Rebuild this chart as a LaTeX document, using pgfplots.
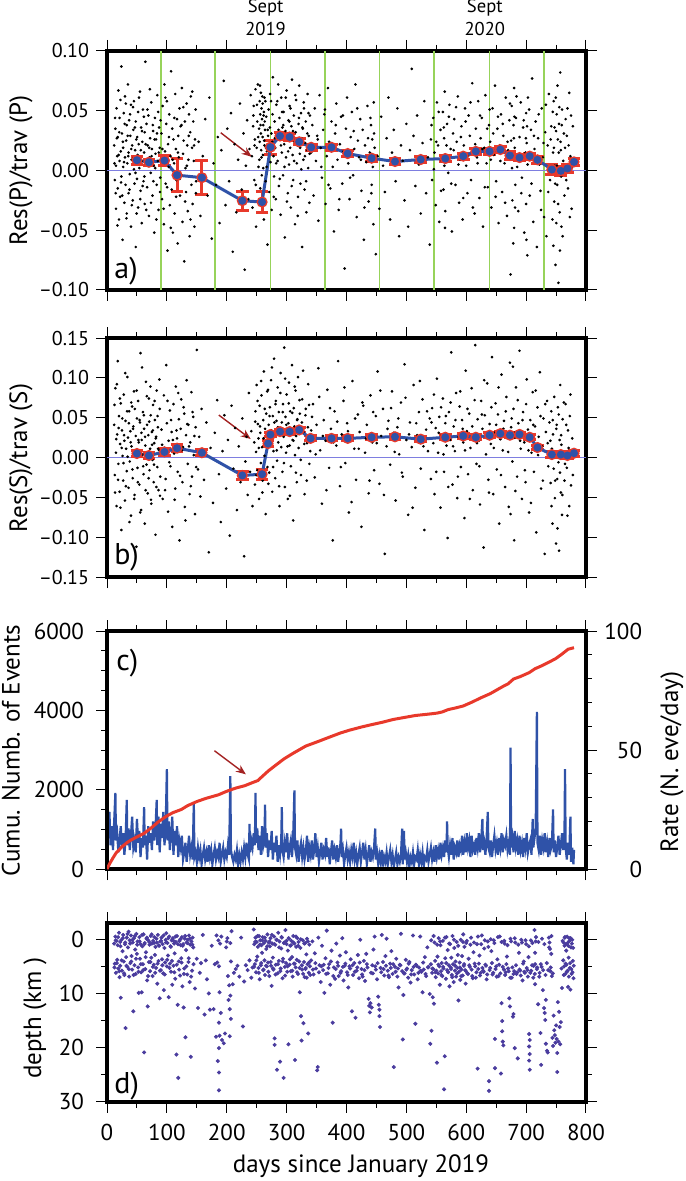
\documentclass[border=0pt]{standalone}
\usepackage{fontspec}
\setmainfont{PT Sans}
\usepackage{pgfplots}
\usepackage{pgfplotstable}
\pgfplotsset{compat=1.18}
\usetikzlibrary{arrows.meta}
\definecolor{bl}{HTML}{2F52A8}
\definecolor{rd}{HTML}{E8392B}
\definecolor{gr}{HTML}{97D35A}
\definecolor{zl}{HTML}{7E7EE0}
\definecolor{pu}{HTML}{4A3C9E}
\definecolor{ar}{HTML}{A32222}
\newcommand\fA{\fontsize{10}{12}\selectfont}
\newcommand\fB{\fontsize{11.5}{13.8}\selectfont}
\newcommand\fL{\fontsize{12.5}{15}\selectfont}
\newcommand\fS{\fontsize{9.3}{11}\selectfont}
\newcommand\fP{\fontsize{15}{18}\selectfont}
\pgfplotsset{
 base/.style={
  scale only axis, width=239.5pt, xmin=0, xmax=800,
  axis line style={line width=2pt, black},
  tick align=outside, major tick length=5.5pt, minor tick length=3pt,
  every tick/.style={black, line width=0.5pt},
  xtick={0,100,...,800}, minor xtick={50,150,...,750},
  /pgf/number format/assume math mode=true,
 },
 ebars/.style={rd, line width=1.5pt, only marks, mark=none,
  error bars/.cd, y dir=both, y explicit,
  error bar style={rd, line width=1.5pt},
  error mark options={rd, line width=1.5pt, mark size=3.2pt, rotate=90}},
 bline/.style={bl, line width=1.5pt, mark=*, mark size=1.2pt, mark options={fill=bl, draw=bl}},
 dots/.style={only marks, mark=*, mark size=0.45pt, black, mark options={draw=black, fill=black}},
}
\pgfplotstableread{
x y e
50 0.0086 0.0033
70 0.0069 0.0025
96 0.0083 0.0040
117 -0.0039 0.0140
158.5 -0.0060 0.0140
226 -0.0253 0.0080
259 -0.0264 0.0090
273 0.0195 0.0060
289 0.0289 0.0030
305 0.0280 0.0030
321 0.0240 0.0025
341 0.0194 0.0025
375 0.0194 0.0025
402 0.0142 0.0025
442 0.0103 0.0025
481 0.0075 0.0025
524 0.0092 0.0025
565 0.0100 0.0025
595 0.0120 0.0025
616 0.0160 0.0025
639 0.0160 0.0025
657 0.0175 0.0025
673 0.0125 0.0030
689 0.0108 0.0025
706 0.0120 0.0025
719 0.0089 0.0030
743 0.0008 0.0040
758 -0.0003 0.0035
769 0.0017 0.0035
780 0.0072 0.0030
}\tabA
\pgfplotstableread{
x y e
50 0.0050 0.0040
70 0.0025 0.0040
96 0.0070 0.0040
117 0.0117 0.0045
158.5 0.0060 0.0040
226 -0.0225 0.0045
259 -0.0210 0.0060
269 0.0175 0.0040
273 0.0288 0.0030
289 0.0325 0.0030
305 0.0325 0.0030
321 0.0346 0.0030
340 0.0240 0.0030
375 0.0240 0.0030
402 0.0240 0.0030
442 0.0254 0.0030
481 0.0260 0.0030
524 0.0230 0.0030
565 0.0254 0.0030
595 0.0270 0.0030
616 0.0254 0.0030
639 0.0280 0.0030
657 0.0300 0.0030
673 0.0280 0.0030
689 0.0290 0.0030
706 0.0254 0.0030
719 0.0125 0.0030
743 0.0037 0.0040
758 0.0037 0.0040
769 0.0025 0.0040
780 0.0054 0.0040
}\tabB
\begin{document}
\begin{tikzpicture}
\path[use as bounding box] (0,0) rectangle (342.5pt,-590.5pt);
% ---------------- panel a
\begin{axis}[base, at={(53.5pt,-145pt)}, anchor=south west, height=119.5pt,
 ymin=-0.1, ymax=0.1, ytick={-0.1,-0.05,0,0.05,0.1},
 yticklabels={–0.10,–0.05,0.00,0.05,0.10}, yticklabel style={font=\fA}, xticklabels={}]
\pgfplotsinvokeforeach{90,181,273,364,455,546,639,730}{\addplot[gr, line width=0.9pt] coordinates {(#1,-0.1) (#1,0.1)};}
\addplot[dots] coordinates {
(12,0.021)(13,-0.008)(14,0.035)(15,0.004)(15,-0.032)(16,0.052)(17,0.012)(18,-0.015)(18,0.028)(19,0.067)(20,-0.041)(21,0.008)(21,0.044)(22,-0.022)(23,0.016)(24,0.087)(24,-0.005)(25,0.031)(26,-0.058)(27,0.019)(27,0.003)(28,0.048)(29,-0.027)(30,0.011)(30,0.062)(31,-0.012)(32,0.025)(33,0.038)(33,-0.036)(34,0.006)(35,0.072)(36,-0.019)(36,0.015)(37,0.042)(38,-0.003)(39,0.029)(40,-0.047)(40,0.055)(41,0.009)(42,0.021)(43,-0.025)(44,0.034)(45,0.001)(45,0.058)(46,-0.011)(47,0.017)(48,-0.064)(48,0.041)(49,0.026)(50,-0.007)(51,0.013)(52,0.049)(52,-0.031)(53,0.022)(54,0.002)(55,0.066)(56,-0.017)(57,0.036)(58,0.008)(58,-0.044)(59,0.024)(60,0.051)(61,-0.009)(62,0.015)(63,0.032)(63,-0.028)(64,0.091)(65,0.005)(66,0.039)(67,-0.014)(68,0.021)(69,0.046)(70,-0.038)(71,0.011)(72,0.027)(73,-0.002)(74,0.057)(75,0.018)(76,-0.021)(77,0.033)(78,0.004)(79,-0.052)(80,0.044)(81,0.014)(82,0.026)(83,-0.012)(84,0.063)(85,0.008)(86,-0.033)(87,0.036)(88,0.019)(89,-0.006)
(91,0.031)(92,-0.024)(93,0.054)(94,0.007)(95,-0.045)(96,0.072)(97,0.016)(98,-0.011)(99,0.039)(100,0.058)(101,-0.067)(102,0.022)(103,0.003)(104,0.047)(105,-0.029)(106,0.012)(107,0.083)(108,-0.016)(109,0.035)(110,-0.052)(111,0.026)(112,0.006)(113,-0.036)(114,0.064)(115,0.018)(116,-0.008)(117,0.043)(118,-0.061)(119,0.029)(120,0.011)(121,0.052)(122,-0.021)(123,0.037)(124,-0.004)(125,0.069)(126,-0.043)(127,0.014)(128,0.025)(129,-0.076)(130,0.041)(131,0.002)(132,-0.018)(133,0.056)(134,0.021)(135,-0.034)(136,0.009)(137,0.047)(138,-0.055)(139,0.032)(140,0.062)(141,-0.012)(142,0.019)(143,-0.028)(144,0.041)(145,0.008)(146,-0.047)(147,0.026)(148,0.051)(149,-0.009)
(153,0.024)(156,-0.038)(160,0.012)(164,0.043)(168,-0.021)(171,0.061)(175,-0.057)(178,0.006)(182,-0.012)(185,0.028)(188,-0.044)(191,0.017)(195,0.075)(198,-0.029)(201,0.035)(204,-0.009)(207,0.048)(210,-0.068)(213,0.022)(216,-0.035)(219,0.009)(222,0.056)(225,-0.016)(228,0.031)(230,-0.083)(232,0.004)(234,0.042)(236,-0.024)(238,0.018)(240,0.063)
(242,0.012)(243,-0.031)(244,0.037)(245,0.054)(246,-0.008)(247,0.026)(248,0.068)(249,-0.047)(250,0.019)(251,0.041)(252,0.072)(253,0.003)(254,0.035)(255,0.058)(255,0.024)(256,0.047)(256,-0.015)(257,0.031)(257,0.065)(258,0.052)(258,0.011)(259,0.043)(259,-0.026)(260,0.028)(260,0.056)(261,0.038)(261,0.002)(262,0.049)(262,-0.041)(263,0.021)(263,0.061)(264,0.034)(265,-0.009)(266,0.045)(267,0.016)(268,-0.062)(269,0.029)(270,0.051)(271,-0.018)(272,0.036)(273,0.007)(274,0.058)(275,-0.033)(276,0.024)(277,0.078)(278,0.012)(279,-0.005)
(280,0.041)(281,0.019)(282,-0.024)(283,0.055)(284,0.031)(285,0.008)(286,0.072)(287,-0.013)(288,0.044)(289,0.026)(290,-0.037)(291,0.061)(292,0.015)(293,0.036)(294,-0.004)(295,0.049)(296,0.022)(297,-0.056)(298,0.033)(299,0.011)(300,0.067)(301,0.028)(302,-0.019)(303,0.042)(304,0.005)(305,0.054)(306,0.019)(307,-0.031)(308,0.037)(309,0.076)(310,0.013)(311,-0.008)(312,0.046)(313,0.024)(314,-0.045)(315,0.032)(316,0.059)(317,0.006)(318,0.021)(319,-0.022)(320,0.039)(321,0.071)(322,0.014)(323,-0.011)(324,0.048)(325,0.027)(326,-0.064)(327,0.035)(328,0.009)(329,0.052)(330,-0.016)(331,0.023)(332,0.041)(333,-0.035)(334,0.017)(335,0.064)(336,0.002)(337,0.029)(338,-0.027)(339,0.046)
(341,0.015)(343,0.038)(345,-0.021)(347,0.052)(349,0.008)(351,0.029)(353,-0.042)(355,0.063)(357,0.019)(359,-0.006)(361,0.034)(363,0.047)(365,-0.028)(367,0.012)(369,0.069)(371,0.024)(373,-0.015)(375,0.041)(377,0.003)(379,-0.051)(381,0.031)(383,0.056)(385,0.009)(387,-0.033)(389,0.022)(391,0.045)(393,-0.011)(395,0.016)(397,-0.082)(399,0.035)(401,0.061)(403,0.006)(405,-0.024)(407,0.028)(409,0.049)(411,-0.004)(413,0.018)(415,0.072)(417,-0.039)(419,0.025)(421,0.011)(423,0.043)(425,-0.017)(427,0.034)(429,-0.058)(431,0.021)(433,0.007)(435,0.054)(437,-0.026)(439,0.015)(441,0.038)(442,-0.012)(443,0.026)(444,0.003)(445,-0.045)(446,0.031)(447,0.019)(449,-0.07)
(452,0.012)(455,-0.032)(458,0.045)(461,0.004)(464,-0.018)(467,0.027)(470,0.061)(473,-0.041)(476,0.015)(479,0.034)(482,-0.009)(485,0.052)(488,-0.055)(491,0.021)(494,0.008)(497,-0.025)(500,0.039)(503,-0.047)(506,0.017)(509,0.085)(512,0.029)(515,-0.013)(518,0.046)(521,0.005)(524,-0.036)(527,0.023)(530,0.058)(533,-0.019)(536,0.011)(539,-0.062)
(541,0.026)(543,-0.008)(545,0.044)(547,0.015)(549,-0.029)(551,0.057)(553,0.021)(555,-0.043)(557,0.034)(559,0.008)(561,0.049)(562,-0.016)(563,0.027)(564,0.066)(565,-0.034)(566,0.012)(568,0.039)(570,-0.002)(572,0.055)(574,0.018)(576,-0.051)(578,0.031)(580,0.043)(582,-0.012)(584,0.024)(586,0.062)(588,-0.027)(590,0.009)(592,0.037)(594,-0.041)(596,0.021)(598,0.052)(600,0.004)(602,-0.019)(604,0.046)(606,0.029)(608,-0.008)(610,0.073)(612,0.016)(614,-0.036)(616,0.035)(618,0.011)(620,0.058)(622,-0.023)(624,0.027)(626,0.044)(628,-0.047)(630,0.019)(632,0.063)(634,0.006)(636,-0.014)(638,0.038)
(640,0.024)(642,-0.031)(644,0.052)(646,0.013)(648,0.071)(650,-0.009)(652,0.035)(654,-0.044)(656,0.021)(658,0.047)(660,-0.018)(662,0.029)(664,0.006)(666,0.061)(668,-0.038)(670,0.017)(672,0.042)(674,-0.087)(675,0.025)(676,0.054)(677,-0.025)(678,0.012)(679,0.038)(680,-0.048)(680,0.069)(681,0.019)(682,-0.012)(683,0.044)(685,0.003)(687,-0.034)(689,0.028)(691,0.057)(693,-0.006)(695,0.036)(697,-0.052)(699,0.015)(700,0.048)(700,-0.028)(701,0.023)(702,-0.071)(703,0.061)(704,0.009)(706,-0.021)(708,0.034)(710,0.077)(712,-0.043)(714,0.018)(716,0.041)(718,-0.064)(720,0.027)(722,0.005)(724,-0.017)(726,0.052)(728,0.011)(730,-0.039)(732,0.032)(734,-0.055)(736,0.021)(738,0.064)(740,-0.008)(742,0.037)(744,-0.041)(745,0.015)(746,0.058)(747,-0.026)(748,0.004)(749,-0.079)(750,0.033)(751,0.047)(752,-0.012)(753,0.026)(754,-0.094)(755,0.039)(756,-0.035)(757,0.082)(758,0.017)(759,-0.047)(760,0.051)(762,0.008)(764,-0.021)(766,0.043)(768,0.029)(770,-0.015)(772,0.065)(774,0.012)(776,-0.032)(778,0.037)
(12.5,0.006)(13.5,0.044)(14.5,-0.019)(16.5,0.027)(17.5,-0.046)(19.5,0.013)(20.5,0.032)(22.5,0.059)(23.5,-0.01)(25.5,-0.021)(26.5,0.024)(28.5,0.007)(29.5,0.039)(31.5,0.056)(32.5,-0.04)(34.5,0.029)(35.5,0.012)(37.5,-0.016)(38.5,0.047)(40.5,0.018)(41.5,-0.029)(43.5,0.053)(44.5,0.011)(46.5,0.036)(47.5,-0.002)(49.5,-0.036)(50.5,0.028)(52.5,0.008)(53.5,0.061)(55.5,-0.024)(56.5,0.017)(58.5,0.033)(59.5,-0.013)(61.5,0.045)(62.5,-0.005)(64.5,0.022)(65.5,-0.033)(67.5,0.051)(68.5,0.004)(70.5,0.019)(71.5,0.068)(73.5,-0.027)(74.5,0.012)(76.5,0.038)(77.5,-0.009)(79.5,0.026)(80.5,0.002)(82.5,-0.041)(83.5,0.031)(85.5,0.049)(86.5,0.015)(88.5,-0.018)(89.5,0.042)
(92.5,0.018)(94.5,-0.032)(97.5,0.061)(100.5,-0.014)(103.5,0.028)(106.5,-0.048)(109.5,0.009)(112.5,0.044)(115.5,-0.022)(118.5,0.015)(121.5,-0.007)(124.5,0.038)(127.5,0.053)(130.5,-0.026)(133.5,0.004)(136.5,0.029)(139.5,-0.041)(142.5,0.066)(145.5,0.021)(148.5,-0.019)
(244.5,0.046)(246.5,0.021)(248.5,-0.012)(250.5,0.055)(252.5,0.028)(254.5,0.009)(255.5,0.071)(256.5,0.038)(257.5,0.017)(258.5,-0.004)(259.5,0.062)(260.5,0.013)(261.5,0.046)(262.5,0.025)(263.5,0.041)(264.5,0.058)(265.5,0.019)(266.5,0.003)(268.5,0.034)(270.5,0.022)(272.5,0.064)(274.5,0.031)(276.5,0.047)(278.5,-0.022)
(280.5,0.027)(282.5,0.006)(284.5,0.058)(286.5,0.034)(288.5,-0.007)(290.5,0.021)(292.5,0.049)(294.5,0.038)(296.5,0.003)(298.5,0.061)(300.5,-0.026)(302.5,0.016)(304.5,0.041)(306.5,0.052)(308.5,-0.013)(310.5,0.033)(312.5,0.008)(314.5,0.063)(316.5,0.025)(318.5,-0.038)(320.5,0.044)(322.5,0.019)(324.5,0.001)(326.5,0.036)(328.5,0.057)(330.5,0.012)(332.5,-0.009)(334.5,0.031)(336.5,0.048)(338.5,0.014)
(352,0.026)(358,0.003)(364,0.051)(370,-0.012)(376,0.021)(382,0.038)(388,-0.024)(394,0.046)(400,0.014)(406,-0.006)(412,0.033)(418,0.052)(424,0.009)(430,-0.031)(436,0.027)(440,0.044)(441.5,-0.019)(443.5,0.011)(445.5,0.057)
(542,0.038)(546,0.001)(550,0.024)(554,0.049)(558,-0.017)(562.5,0.036)(563.5,0.004)(564.5,-0.048)(567,0.021)(571,0.045)(575,-0.011)(579,0.017)(583,0.053)(587,0.005)(591,0.028)(595,-0.023)(599,0.041)(603,0.012)(607,0.057)(611,-0.031)(615,0.022)(619,0.006)(623,0.046)(627,0.018)(631,-0.014)(635,0.035)(639,0.051)
(641,0.009)(645,0.031)(649,-0.022)(653,0.045)(657,0.008)(661,0.039)(665,-0.027)(669,0.024)(673,0.056)(676.5,0.002)(678.5,-0.061)(679.5,0.027)(680.5,0.045)(681.5,-0.031)(684,0.062)(688,0.011)(692,-0.019)(696,0.042)(699.5,0.027)(700.5,-0.058)(701.5,0.037)(702.5,0.005)(705,0.051)(709,-0.011)(713,0.029)(717,0.007)(721,0.047)(725,-0.033)(729,0.023)(733,0.055)(737,-0.018)(741,0.026)(744.5,0.049)(745.5,-0.063)(746.5,0.019)(747.5,0.036)(748.5,-0.011)(749.5,0.061)(750.5,-0.044)(751.5,0.004)(752.5,0.071)(753.5,-0.028)(754.5,0.015)(755.5,0.053)(756.5,-0.067)(757.5,0.024)(758.5,-0.005)(759.5,0.038)(761,-0.055)(763,0.031)(765,0.019)(767,-0.008)(769,0.052)(771,0.021)(773,-0.039)(775,0.046)(777,0.003)
};
\addplot[zl, line width=0.5pt] coordinates {(0,0) (800,0)};
\addplot[ebars] table[x=x, y=y, y error=e] {\tabA};
\addplot[bline] table[x=x, y=y] {\tabA};
\draw[ar, line width=0.7pt, -{Stealth[length=5pt,width=4pt]}] (axis cs:190,0.0316) -- (axis cs:241.7,0.0115);
\end{axis}
% ---------------- panel b
\begin{axis}[base, at={(53.5pt,-288.5pt)}, anchor=south west, height=119.5pt,
 ymin=-0.15, ymax=0.15, ytick={-0.15,-0.1,-0.05,0,0.05,0.1,0.15},
 yticklabels={–0.15,–0.10,–0.05,0.00,0.05,0.10,0.15}, yticklabel style={font=\fA}, xticklabels={}]
\addplot[dots] coordinates {
(12,0.041)(13,-0.022)(14,0.087)(15,0.006)(16,-0.061)(17,0.029)(18,0.121)(19,-0.008)(20,0.052)(21,-0.043)(22,0.017)(23,0.068)(24,-0.091)(25,0.034)(26,0.002)(27,-0.029)(28,0.079)(29,0.021)(30,-0.054)(31,0.046)(32,0.011)(33,-0.017)(34,0.101)(35,0.025)(36,-0.038)(37,0.058)(38,-0.005)(39,0.033)(40,-0.073)(41,0.014)(42,0.064)(43,-0.026)(44,0.039)(45,0.083)(46,-0.047)(47,0.008)(48,0.027)(49,-0.112)(50,0.049)(51,-0.013)(52,0.071)(53,0.019)(54,-0.034)(55,0.044)(56,0.131)(57,-0.066)(58,0.022)(59,0.004)(60,0.057)(61,-0.021)(62,0.036)(63,-0.083)(64,0.015)(65,0.095)(66,-0.009)(67,0.041)(68,-0.045)(69,0.028)(70,0.074)(71,-0.016)(72,0.011)(73,0.053)(74,-0.058)(75,0.032)(76,-0.003)(77,0.066)(78,-0.031)(79,0.018)(80,0.047)(81,-0.097)(82,0.026)(83,0.084)(84,-0.012)(85,0.038)(86,-0.041)(87,0.009)(88,0.061)(89,-0.024)
(91,0.035)(93,-0.052)(95,0.078)(96,0.012)(98,-0.027)(99,0.116)(100,0.043)(102,-0.068)(103,0.021)(105,0.059)(106,-0.011)(108,0.032)(109,-0.087)(111,0.067)(112,0.005)(114,-0.039)(115,0.089)(117,0.024)(118,-0.018)(120,0.048)(121,-0.104)(123,0.036)(124,0.073)(126,-0.031)(127,0.013)(129,0.055)(130,-0.062)(132,0.028)(133,0.097)(135,-0.008)(136,0.041)(138,-0.046)(139,0.019)(141,0.082)(142,-0.024)(144,0.051)(145,0.003)(147,-0.071)(148,0.038)(150,0.135)(152,-0.015)(154,0.026)(156,-0.049)(158,0.061)
(162,-0.028)(166,0.044)(170,-0.119)(173,0.012)(177,-0.057)(180,0.031)(184,0.072)(187,-0.021)(190,-0.081)(193,0.008)(196,0.053)(199,-0.039)(202,0.022)(205,-0.098)(208,0.065)(211,-0.014)(214,0.037)(217,-0.066)(220,0.014)(223,-0.031)(226,0.049)(229,-0.124)(231,-0.005)(233,0.026)(235,-0.047)(237,0.081)(239,-0.018)(241,0.033)(243,-0.061)
(246,0.019)(247,-0.034)(248,0.058)(249,0.007)(250,0.091)(251,-0.016)(252,0.042)(253,0.024)(254,-0.052)(255,0.065)(256,0.031)(257,-0.007)(258,0.078)(259,0.013)(260,-0.029)(261,0.047)(262,0.108)(263,0.002)(264,0.036)(265,-0.071)(266,0.055)(267,0.021)(268,-0.012)(269,0.085)
(270,0.041)(271,-0.019)(272,0.063)(273,0.017)(274,0.097)(275,0.034)(276,-0.043)(277,0.052)(278,0.008)(279,0.124)(280,0.029)(281,-0.026)(282,0.071)(283,0.046)(284,-0.004)(285,0.088)(286,0.019)(287,0.057)(288,-0.061)(289,0.035)(290,0.106)(291,0.013)(292,0.044)(293,-0.018)(294,0.067)(295,0.026)(296,0.138)(297,-0.037)(298,0.051)(299,0.006)(300,0.079)(301,0.031)(302,-0.052)(303,0.043)(304,0.094)(305,0.015)(306,0.058)(307,-0.011)(308,0.036)(309,0.116)(310,0.022)(311,-0.079)(312,0.062)(313,0.039)(314,0.003)(315,0.084)(316,0.027)(317,-0.031)(318,0.048)(319,0.101)(320,0.012)(322,0.055)(324,-0.022)(326,0.073)(328,0.032)(330,-0.046)(332,0.061)(334,0.018)(336,0.092)(338,-0.008)
(341,0.034)(344,0.067)(347,-0.025)(350,0.041)(353,0.112)(356,0.009)(359,-0.058)(362,0.047)(365,0.021)(368,0.085)(371,-0.013)(374,0.036)(377,-0.104)(380,0.058)(383,0.015)(386,0.121)(389,-0.036)(392,0.029)(395,0.071)(398,-0.007)(401,0.043)(404,-0.069)(407,0.024)(410,0.096)(413,0.011)(416,-0.028)(419,0.054)(422,0.032)(425,-0.087)(428,0.065)(431,0.006)(434,0.041)(437,-0.045)(440,0.078)(443,0.019)(446,-0.016)(449,0.052)(452,0.108)(455,-0.033)(458,0.027)(461,0.061)(464,-0.121)(467,0.014)(470,0.046)(473,-0.009)(476,0.083)(479,0.031)(482,-0.054)(485,0.038)(488,0.004)(491,0.069)(494,-0.024)(497,0.117)(500,0.022)(503,-0.072)(506,0.044)(509,0.013)(512,0.091)(515,-0.038)(518,0.028)(521,0.057)(524,-0.014)(527,0.073)(530,-0.091)(533,0.035)(536,0.008)(539,0.049)
(541,-0.027)(543,0.062)(545,0.018)(547,-0.046)(549,0.037)(551,0.099)(553,0.006)(555,0.051)(557,-0.063)(559,0.028)(561,0.074)(563,-0.018)(565,0.043)(567,0.015)(569,-0.101)(571,0.057)(573,0.022)(575,0.132)(577,-0.034)(579,0.039)(581,0.008)(583,0.081)(585,-0.051)(587,0.026)(589,0.064)(591,-0.012)(593,0.047)(595,0.019)(597,-0.076)(599,0.109)(601,0.033)(603,-0.021)(605,0.055)(607,0.012)(609,0.087)(611,-0.041)(613,0.029)(615,0.141)(617,-0.008)(619,0.048)(621,0.021)(623,-0.059)(625,0.071)(627,0.036)(629,-0.113)(631,0.053)(633,0.004)(635,0.093)(637,-0.028)(639,0.042)(641,0.017)(643,0.126)(645,-0.046)(647,0.031)(649,0.068)(651,-0.015)(653,0.054)(655,-0.083)(657,0.023)(659,0.104)(661,0.009)(663,0.046)(665,-0.037)(667,0.076)(669,0.028)(671,-0.062)(673,0.119)(675,0.038)(677,-0.005)(679,0.061)(680,-0.104)(681,0.025)(683,0.088)(685,-0.024)(687,0.043)(689,0.134)(691,0.011)(693,-0.052)(695,0.057)(697,0.019)(699,-0.031)(701,0.098)(703,0.035)(705,-0.069)(707,0.047)(709,0.006)(711,0.082)(713,-0.018)(715,0.039)(717,-0.094)(719,0.063)(721,0.026)(723,0.107)(725,-0.039)(727,0.014)(729,0.049)(731,-0.121)(733,0.032)(735,0.071)(737,-0.011)(739,0.044)
(741,-0.032)(742,0.058)(743,0.011)(744,-0.083)(745,0.029)(746,-0.014)(747,0.076)(748,-0.051)(749,0.004)(750,-0.108)(751,0.041)(752,-0.027)(753,0.063)(754,-0.006)(755,-0.117)(756,0.022)(757,0.091)(758,-0.044)(759,0.016)(760,-0.072)(761,0.048)(762,0.003)(764,-0.029)(766,0.067)(768,-0.013)(770,0.034)(772,-0.061)(774,0.079)(776,0.009)(778,-0.022)
(12.5,0.066)(13.5,-0.044)(15.5,0.023)(16.5,0.092)(18.5,-0.028)(19.5,0.037)(21.5,0.074)(22.5,-0.063)(24.5,0.012)(25.5,0.049)(27.5,-0.007)(28.5,0.028)(30.5,0.106)(31.5,-0.036)(33.5,0.058)(34.5,0.001)(36.5,0.043)(37.5,-0.081)(39.5,0.019)(40.5,0.069)(42.5,-0.015)(43.5,0.036)(45.5,-0.052)(46.5,0.061)(48.5,0.007)(49.5,0.084)(51.5,-0.031)(52.5,0.022)(54.5,0.047)(55.5,-0.069)(57.5,0.031)(58.5,0.113)(60.5,-0.011)(61.5,0.053)(63.5,0.026)(64.5,-0.041)(66.5,0.077)(67.5,0.003)(69.5,-0.026)(70.5,0.045)(72.5,0.089)(73.5,-0.053)(75.5,0.016)(76.5,0.034)(78.5,-0.009)(79.5,0.071)(81.5,0.024)(82.5,-0.037)(84.5,0.052)(85.5,0.011)(87.5,0.098)(88.5,-0.048)
(92,0.016)(97,-0.041)(101,0.071)(104,-0.006)(107,0.047)(110,0.022)(113,-0.053)(116,0.034)(119,0.081)(122,-0.023)(125,0.009)(128,0.063)(131,-0.079)(134,0.042)(137,0.014)(140,-0.036)(143,0.057)(146,0.027)(149,-0.012)
(247.5,0.045)(249.5,-0.022)(251.5,0.071)(253.5,0.012)(255.5,0.039)(257.5,0.096)(259.5,-0.044)(261.5,0.024)(263.5,0.061)(265.5,0.017)(267.5,0.083)(269.5,-0.033)
(271.5,0.052)(273.5,0.026)(275.5,0.113)(277.5,-0.012)(279.5,0.044)(281.5,0.067)(283.5,0.009)(285.5,0.038)(287.5,-0.036)(289.5,0.081)(291.5,0.029)(293.5,0.057)(295.5,-0.007)(297.5,0.099)(299.5,0.041)(301.5,0.014)(303.5,0.068)(305.5,-0.048)(307.5,0.035)(309.5,0.056)(311.5,0.021)(313.5,0.089)(315.5,-0.019)(317.5,0.047)(319.5,0.031)(321.5,0.072)(323.5,-0.003)(325.5,0.044)(327.5,0.109)(329.5,0.017)(331.5,0.053)(333.5,-0.029)(335.5,0.038)(337.5,0.066)(339.5,0.008)
(342.5,0.051)(348.5,0.004)(354.5,0.076)(360.5,0.027)(366.5,-0.041)(372.5,0.062)(378.5,0.019)(384.5,0.045)(390.5,-0.012)(396.5,0.088)(402.5,0.033)(408.5,-0.056)(414.5,0.049)(420.5,0.011)(426.5,0.069)(432.5,0.024)(438.5,-0.029)(444.5,0.057)(450.5,0.018)(456.5,0.084)(462.5,-0.047)(468.5,0.036)(474.5,0.062)(480.5,0.007)(486.5,0.049)(492.5,-0.019)(498.5,0.075)(504.5,0.029)(510.5,-0.063)(516.5,0.043)(522.5,0.096)(528.5,0.014)(534.5,0.058)
(542,0.044)(546,0.079)(550,-0.018)(554,0.031)(558,0.063)(562,0.004)(566,0.052)(570,-0.037)(574,0.069)(578,0.014)(582,0.047)(586,-0.024)(590,0.083)(594,0.036)(598,0.009)(602,0.061)(606,-0.052)(610,0.039)(614,0.072)(618,0.018)(622,-0.011)(626,0.054)(630,0.097)(634,0.027)(638,-0.044)(642,0.063)(646,0.012)(650,0.041)(654,0.088)(658,-0.022)(662,0.036)(666,0.058)(670,0.007)(674,-0.071)(676,0.049)(678,0.114)(680.5,0.031)(682,-0.042)(686,0.072)(690,0.021)(694,0.047)(698,-0.016)(700,0.067)(704,0.009)(708,-0.057)(712,0.041)(716,0.084)(720,0.003)(724,0.052)(728,-0.029)(732,0.067)(736,0.018)
(740.5,0.021)(742.5,-0.061)(744.5,0.047)(746.5,0.002)(748.5,-0.029)(750.5,0.036)(752.5,-0.089)(754.5,0.054)(756.5,-0.019)(758.5,0.028)(760.5,-0.047)(763,0.069)(765,-0.008)(767,0.041)(769,-0.073)(771,0.012)(773,0.052)(775,-0.035)(777,0.024)
};
\addplot[zl, line width=0.5pt] coordinates {(0,0) (800,0)};
\addplot[ebars] table[x=x, y=y, y error=e] {\tabB};
\addplot[bline] table[x=x, y=y] {\tabB};
\draw[ar, line width=0.7pt, -{Stealth[length=5pt,width=4pt]}] (axis cs:186.7,0.0533) -- (axis cs:240,0.0232);
\end{axis}
% ---------------- panel c (rate, right axis)
\begin{axis}[base, at={(53.5pt,-434.5pt)}, anchor=south west, height=119pt,
 ymin=0, ymax=100, ytick={0,50,100}, minor ytick={10,20,30,40,60,70,80,90},
 ytick pos=right, yticklabel pos=right, yticklabels={0,50,100},
 yticklabel style={font=\fB, text width=19pt, align=right}, xticklabels={}]
\addplot[bl, line width=1.1pt] coordinates {
(0,26)(1,36)(2,13)(4,24)(6,10)(8,18)(10,8)(12,20)(14,32)(15,12)(17,15)(19,7)(21,12)(23,18)(25,9)(27,15)(29,6)(31,12)(33,29)(34,10)(36,17)(38,8)(40,14)(42,22)(44,9)(46,12)(48,7)(50,21)(52,11)(54,16)(56,5)(58,13)(60,9)(62,26)(63,10)(65,14)(67,4)(69,18)(71,11)(73,15)(75,8)(77,20)(79,12)(81,17)(83,29)(84,10)(86,22)(88,7)(90,19)(92,13)(94,24)(96,10)(98,18)(100,42)(101,12)(103,20)(105,8)(107,15)(109,22)(111,6)(113,16)(115,10)(117,18)(119,5)(121,12)(123,9)(125,14)(127,4)(129,7)(131,11)(133,3)(135,8)(137,14)(139,6)(141,9)(143,4)(145,28)(146,5)(148,7)(150,3)(152,9)(154,5)(156,8)(158,2)(160,6)(162,9)(164,4)(166,7)(168,3)(170,10)(172,5)(174,8)(176,2)(178,6)(180,9)(182,4)(184,7)(186,5)(188,11)(190,3)(192,6)(194,9)(196,4)(198,7)(200,5)(202,10)(204,6)(206,39)(207,8)(209,5)(211,3)(213,6)(215,4)(217,8)(219,2)(221,6)(223,3)(225,7)(227,4)(229,9)(231,5)(233,11)(235,6)(237,4)(238,19)(239,7)(241,12)(243,9)(245,15)(247,10)(248,32)(249,11)(251,17)(253,8)(255,14)(257,6)(259,18)(261,10)(263,13)(264,27)(265,9)(267,15)(269,5)(271,12)(273,8)(275,16)(277,4)(279,11)(281,7)(283,14)(285,3)(287,10)(289,6)(291,12)(292,26)(293,8)(295,5)(297,11)(299,7)(301,15)(303,4)(305,9)(307,12)(309,5)(311,14)(313,33)(314,9)(316,6)(318,12)(320,3)(322,8)(324,11)(326,5)(328,9)(330,4)(332,7)(334,14)(336,3)(338,9)(340,6)(342,12)(344,4)(346,8)(348,15)(350,5)(352,9)(354,3)(356,7)(358,11)(360,4)(362,8)(364,6)(366,13)(368,5)(370,9)(372,2)(374,7)(376,12)(378,4)(380,8)(382,5)(384,10)(386,3)(388,7)(390,11)(391,17)(392,5)(394,8)(396,2)(398,6)(400,9)(402,4)(404,7)(406,3)(408,8)(410,5)(412,11)(414,4)(416,7)(418,2)(420,6)(422,9)(424,3)(426,7)(428,11)(430,4)(432,8)(434,2)(436,6)(438,10)(440,3)(442,7)(444,5)(446,9)(448,17)(449,4)(451,7)(453,2)(455,6)(457,3)(459,8)(461,1)(463,5)(465,3)(467,7)(469,2)(471,5)(473,8)(475,3)(477,6)(479,1)(481,4)(483,7)(485,2)(487,5)(489,3)(491,6)(493,17)(494,2)(496,16)(497,4)(499,7)(501,3)(503,6)(505,1)(507,5)(509,3)(511,7)(513,2)(515,5)(517,4)(519,8)(521,2)(523,6)(525,3)(527,7)(529,1)(531,5)(533,4)(535,8)(537,3)(539,6)(541,9)(543,4)(545,7)(547,3)(549,10)(551,5)(553,8)(555,4)(557,11)(559,6)(561,9)(563,5)(565,12)(567,7)(568,20)(569,9)(571,5)(573,10)(575,6)(577,13)(579,4)(581,9)(583,7)(585,12)(587,5)(589,10)(591,8)(593,14)(595,6)(597,11)(599,7)(601,15)(603,9)(605,12)(607,5)(609,14)(611,8)(613,10)(615,6)(617,13)(619,9)(621,15)(623,7)(625,12)(627,21)(628,8)(630,11)(632,6)(634,13)(636,24)(637,9)(639,7)(641,12)(643,5)(645,10)(647,14)(649,8)(651,11)(653,6)(655,13)(657,9)(659,15)(661,7)(663,12)(665,10)(667,14)(669,8)(671,11)(673,6)(674,51)(675,9)(677,13)(679,7)(681,16)(683,9)(685,12)(687,6)(689,14)(691,8)(693,11)(695,5)(697,13)(699,9)(701,15)(703,7)(705,10)(707,12)(709,6)(711,21)(712,9)(714,13)(716,17)(718,66)(719,11)(721,8)(723,14)(725,6)(727,12)(729,9)(731,15)(733,7)(735,11)(737,5)(739,13)(741,8)(743,10)(745,25)(746,7)(748,12)(750,5)(752,9)(754,14)(756,6)(758,10)(760,15)(762,8)(764,12)(765,42)(766,9)(768,4)(770,11)(772,6)(774,22)(775,3)(777,9)(779,2)(780,8)
};
\end{axis}
% ---------------- panel c (cumulative, left axis)
\begin{axis}[base, at={(53.5pt,-434.5pt)}, anchor=south west, height=119pt,
 ymin=0, ymax=6000, ytick={0,2000,4000,6000},
 minor ytick={500,1000,1500,2500,3000,3500,4500,5000,5500},
 ytick pos=left, yticklabels={0,2000,4000,6000},
 yticklabel style={font=\fB, xshift=-2.5pt}, xticklabels={}]
\addplot[rd, line width=1.5pt] coordinates {
(0,0)(5,150)(10,280)(15,400)(20,480)(25,560)(33,660)(40,730)(50,810)(62,900)(75,1050)(85,1180)(99,1330)(110,1420)(124,1500)(135,1600)(150,1700)(165,1780)(186,1870)(200,1960)(215,2040)(230,2100)(245,2190)(252,2230)(259,2330)(270,2480)(282,2620)(296,2780)(310,2910)(332,3100)(350,3200)(369,3310)(390,3430)(405,3500)(425,3580)(442,3640)(460,3700)(478,3770)(500,3830)(515,3870)(540,3910)(551,3930)(560,3960)(570,4020)(582,4060)(595,4110)(610,4210)(625,4320)(640,4420)(661,4600)(670,4670)(679,4790)(690,4850)(705,4950)(715,5050)(727,5130)(740,5230)(749,5300)(760,5420)(770,5540)(780,5580)
};
\draw[ar, line width=0.7pt, -{Stealth[length=5pt,width=4pt]}] (axis cs:179.4,2982) -- (axis cs:232,2387);
\end{axis}
% ---------------- panel d
\begin{axis}[base, at={(53.5pt,-550.85pt)}, anchor=south west, height=89.35pt,
 ymin=-3, ymax=30, y dir=reverse, ytick={0,10,20,30}, minor ytick={5,15,25},
 yticklabels={0,10,20,30}, yticklabel style={font=\fB, xshift=-2.5pt},
 xticklabels={0,100,200,300,400,500,600,700,800}, xticklabel style={font=\fB, yshift=-2pt}]
\addplot[only marks, mark=*, mark size=0.8pt, pu, mark options={draw=pu, fill=pu}] coordinates {
(12,0.8)(13,4.5)(14,-0.5)(15,6.2)(16,0.3)(17,3.8)(18,1.1)(19,5.4)(20,-1.2)(21,7.0)(22,0.5)(22,4.9)(23,10.8)(24,0.1)(25,5.8)(26,2.2)(27,-0.8)(28,4.1)(29,6.6)(30,0.9)(31,16.4)(32,3.3)(33,-0.3)(34,5.1)(35,1.5)(36,-1.4)(37,6.9)(38,0.2)(39,4.4)(40,-0.7)(41,3.1)(42,5.6)(43,0.6)(44,13.3)(45,-0.2)(46,4.8)(47,1.9)(48,6.4)(49,-1.0)(50,2.7)(51,0.4)(52,5.2)(53,9.9)(54,-0.4)(55,3.6)(56,0.9)(57,6.1)(58,9.8)(59,1.3)(60,4.6)(61,-0.9)(62,20.9)(63,0.7)(64,5.5)(65,2.4)(66,-0.1)(67,7.6)(68,12.4)(69,0.2)(70,4.2)(71,1.0)(72,5.9)(73,-0.6)(74,3.4)(75,0.8)(76,6.8)(77,0.3)(78,4.7)(79,-0.4)(80,2.9)(81,1.4)(82,5.3)(83,0.6)(84,8.2)(85,-0.8)(86,4.0)(87,1.2)(88,10.9)(89,0.4)(90,5.7)(91,-0.3)(92,3.7)(93,0.9)(94,6.3)(95,9.4)(96,1.6)(97,4.3)(98,0.1)(99,-1.1)(100,5.0)(101,0.7)(102,3.0)(103,10.7)(104,-0.5)(105,4.5)(106,1.3)(107,6.0)(108,0.2)(109,8.4)(110,-0.2)(111,4.9)(112,0.8)(113,2.6)(114,7.3)(115,0.5)(116,21.3)(117,-0.6)(118,12.1)(119,25.6)(120,4.1)(121,0.3)(122,6.7)(123,1.1)(124,3.5)(125,-0.4)(126,8.7)(127,0.9)(128,12.6)(129,5.4)(130,-0.1)(131,18.1)(132,2.0)(133,0.6)(134,6.5)(135,0.1)(136,4.2)(137,-0.7)(138,7.9)(139,1.0)(140,21.7)(141,0.4)(142,5.8)(143,-0.3)(144,1.5)
(147,9.1)(150,3.6)(152,12.7)(155,6.2)(157,4.4)(160,-0.8)(163,13.9)(165,3.9)(167,7.4)(170,10.0)(172,13.0)(175,1.2)(178,12.9)(180,4.6)(182,18.0)(183,-0.7)(184,4.3)(185,22.5)(186,0.2)(187,5.0)(187,15.4)(187,20.1)(187,24.6)(187,27.9)(188,9.8)(188,17.8)(189,0.8)(190,13.6)(191,-0.5)(192,18.6)(195,19.2)(197,17.4)(199,1.5)(200,0.4)(201,-0.2)(202,6.8)(203,11.2)(204,8.5)(205,12.9)(205,17.9)(206,0.7)(206,10.4)(207,4.1)(207,14.7)(208,-1.5)(210,8.3)(212,6.2)(215,5.5)(218,4.9)(221,6.9)(224,-0.3)(227,16.1)(229,7.8)(232,4.8)(235,5.7)(238,3.9)(241,7.1)(243,5.2)
(245,-1.8)(246,0.9)(247,4.6)(248,-0.3)(249,6.1)(250,0.5)(251,3.2)(252,1.4)(253,5.3)(254,-0.6)(255,7.4)(256,0.2)(257,4.8)(258,1.1)(259,2.5)(260,-0.4)(261,5.7)(262,0.7)(263,3.9)(264,6.6)(265,0.3)(266,1.8)(267,5.0)(268,-0.9)(269,4.3)(270,0.6)(271,6.8)(272,1.3)(273,-0.2)(274,4.9)(275,8.6)(276,0.8)(277,3.4)(278,5.6)(279,-0.5)(280,18.3)(280,19.5)(281,1.0)(282,4.7)(283,0.1)(284,24.1)(285,6.3)(286,-1.2)(287,4.0)(288,0.4)(289,22.6)(290,5.4)(291,1.7)(292,-0.3)(293,7.2)(294,3.6)(295,25.6)(296,0.6)(297,5.1)(298,-1.7)(299,4.4)(300,0.9)(301,6.0)(302,2.1)(303,19.4)(304,-0.1)(305,4.7)(306,1.2)(307,5.9)(308,0.3)(309,3.3)(310,6.9)(311,-0.6)(312,4.5)(313,0.8)(314,22.3)(315,5.2)(316,1.4)(317,3.8)(318,-0.2)(319,6.4)(320,0.5)(321,4.1)(322,9.8)(323,1.6)(324,14.2)(325,18.7)(326,5.6)(327,0.2)(328,15.5)(329,4.2)(330,7.0)(331,0.7)(332,5.3)(333,2.8)(334,-0.1)(335,4.6)(336,17.4)(337,6.2)(338,1.0)(339,5.0)
(341,3.9)(343,0.4)(345,6.5)(347,2.6)(349,5.4)(351,24.2)(352,23.6)(353,-0.3)(355,4.8)(357,7.9)(359,1.2)(361,5.7)(363,9.9)(365,3.5)(367,-1.6)(369,6.3)(371,4.6)(373,8.4)(375,2.1)(377,15.4)(379,5.2)(381,7.3)(383,0.8)(385,4.3)(387,6.8)(389,3.0)(391,5.9)(393,-0.2)(395,7.6)(397,4.9)(399,2.4)(401,6.1)(403,8.9)(405,5.0)(407,3.7)(409,13.3)(411,6.6)(413,4.4)(415,14.5)(417,5.8)(419,2.9)(421,7.2)(423,0.1)(425,5.5)(427,6.9)(429,4.0)(431,7.7)(433,2.7)(435,5.2)(437,11.0)(438,12.3)(439,13.5)(440,11.8)(441,6.2)(442,12.6)(443,4.8)(445,1.9)(447,-0.5)(449,5.6)(451,7.4)(453,10.6)(454,12.1)(455,14.2)(455,13.0)(456,16.2)(457,5.3)(459,-0.8)(461,4.2)(463,6.7)(465,3.1)(467,-0.1)(469,5.8)(471,7.0)(473,4.5)(475,2.2)(477,6.4)(479,23.6)(481,5.1)(483,3.6)(485,6.9)(487,8.9)(489,4.7)(491,-1.0)(493,5.9)(494,18.5)(495,10.3)(497,6.3)(499,3.8)(501,5.4)(503,7.1)(505,4.2)(507,8.0)(509,5.7)(511,-0.7)(513,6.5)(515,15.6)(517,4.9)(519,7.4)(521,5.2)(523,-0.5)(525,6.0)(527,9.8)(529,5.6)(531,3.3)(533,6.8)(535,1.5)(537,5.1)(539,10.1)
(540,19.3)(541,4.6)(542,16.9)(543,6.2)(544,10.7)(545,5.5)(546,11.9)(547,0.6)(548,4.0)(549,7.0)(550,5.8)(551,22.8)(552,3.2)(553,6.3)(554,-0.2)(555,5.0)(556,8.4)(557,1.1)(558,5.9)(559,4.4)(560,6.8)(561,0.3)(562,5.4)(563,27.7)(564,21.6)(565,3.5)(566,7.3)(567,-0.4)(568,5.7)(569,2.0)(570,6.1)(571,4.8)(572,8.7)(573,0.9)(574,5.2)(575,3.4)(576,6.6)(577,-0.6)(578,4.6)(579,7.9)(580,1.6)(581,5.8)(582,4.1)(583,6.9)(584,0.5)(585,5.3)(586,2.9)(587,11.3)(588,6.0)(589,4.3)(590,7.5)(591,0.1)(592,5.6)(593,3.1)(594,6.7)(595,-0.9)(596,4.9)(597,1.4)(598,5.7)(599,8.2)(600,0.7)(602,6.3)(604,3.6)(606,5.1)(608,-0.3)(610,6.8)(612,2.4)(614,4.5)(616,7.1)(618,0.9)(619,23.9)(620,5.5)(622,3.0)(624,6.2)(626,-0.7)(628,5.8)(630,1.7)(632,4.7)(634,7.4)(636,0.4)(638,26.2)(638,28.0)(640,5.3)(642,2.2)(644,6.5)(646,0.2)(648,18.4)(648,23.8)(650,5.0)(652,3.7)(654,6.8)(656,-0.5)(658,24.8)(659,11.8)(660,15.1)(660,17.0)(661,18.9)(662,19.6)(663,5.6)(664,0.8)(666,6.1)(668,3.2)(670,5.4)(672,10.9)(673,12.4)(674,-0.1)(676,7.1)(678,14.3)(679,13.8)(680,5.9)(681,20.1)(682,0.6)(684,6.4)(686,22.0)(688,2.5)(690,5.8)(692,0.1)(694,7.6)(696,4.1)(698,6.2)
(700,0.9)(702,5.7)(704,3.3)(705,17.5)(705,19.8)(705,22.4)(706,18.6)(706,21.2)(706,24.1)(707,6.2)(708,0.2)(710,4.8)(712,7.1)(714,-1.7)(715,2.5)(715,4.6)(715,8.3)(716,0.4)(718,5.5)(720,12.0)(722,6.9)(724,17.3)(725,23.2)(726,5.1)(728,9.4)(730,12.7)(731,13.6)(732,14.9)(733,19.3)(733,11.2)(735,20.6)(736,20.9)(737,5.7)(738,-0.3)(739,0.6)(740,1.8)(741,5.2)(742,2.7)(743,6.8)(744,18.2)(745,19.7)(746,14.1)(747,16.8)(748,17.7)(749,19.1)(750,15.9)(751,18.4)(752,24.5)(752,21.0)(753,11.6)(754,18.9)(755,13.4)(756,16.2)(757,19.4)(758,15.3)(759,5.4)(760,9.0)(761,0.3)(762,3.9)(763,6.6)(764,1.2)(765,-0.4)(766,4.5)(767,2.1)(768,6.0)(769,0.7)(770,8.8)(771,3.4)(772,-0.2)(773,5.3)(774,9.3)(775,1.5)(776,6.4)(777,0.1)(778,4.0)(779,7.2)
(12.5,5.2)(14.5,0.2)(16.5,4.4)(18.5,-0.4)(20.5,5.9)(22.5,1.3)(24.5,3.9)(26.5,-0.2)(28.5,6.3)(30.5,0.6)(32.5,4.9)(34.5,-1.0)(36.5,5.5)(38.5,0.8)(40.5,4.1)(42.5,0.1)(44.5,6.6)(46.5,-0.6)(48.5,3.6)(50.5,1.0)(52.5,6.0)(54.5,0.4)(56.5,4.6)(58.5,-0.8)(60.5,5.7)(62.5,0.9)(64.5,3.3)(66.5,-0.3)(68.5,6.8)(70.5,0.5)(72.5,4.2)(74.5,-0.9)(76.5,5.1)(78.5,0.7)(80.5,6.2)(82.5,-0.1)(84.5,4.5)(86.5,1.1)(88.5,5.8)(90.5,0.3)(92.5,4.8)(94.5,-0.7)(96.5,6.5)(98.5,0.6)(100.5,3.8)(102.5,-0.2)(104.5,5.3)(106.5,1.4)(108.5,4.0)(110.5,0.2)(112.5,6.1)(114.5,-0.5)(116.5,4.7)(118.5,0.9)(120.5,5.6)(122.5,0.0)(124.5,4.3)(126.5,1.2)(128.5,6.4)(130.5,-0.6)(132.5,5.0)(134.5,0.7)(136.5,3.5)(138.5,-0.1)(140.5,6.9)(142.5,1.0)(144.5,4.6)
(245.5,5.1)(247.5,0.5)(249.5,3.9)(251.5,-0.6)(253.5,6.2)(255.5,1.0)(257.5,4.4)(259.5,0.2)(261.5,5.6)(263.5,-0.3)(265.5,4.9)(267.5,1.3)(269.5,6.0)(271.5,0.4)(273.5,4.2)(275.5,-0.8)(277.5,5.4)(279.5,0.9)(281.5,6.5)(283.5,0.1)(285.5,4.6)(287.5,1.5)(289.5,5.9)(291.5,-0.4)(293.5,4.1)(295.5,0.7)(297.5,6.7)(299.5,0.3)(301.5,5.0)(303.5,-0.2)(305.5,3.7)(307.5,1.1)(309.5,5.8)(311.5,0.6)(313.5,4.5)(315.5,-0.5)(317.5,6.1)(319.5,1.2)(321.5,5.3)(323.5,0.0)(325.5,4.8)(327.5,6.4)(329.5,0.8)(331.5,5.5)(333.5,7.1)(335.5,0.4)(337.5,4.3)(339.5,6.6)
(344,5.6)(348,4.4)(354,6.1)(358,5.0)(362,4.7)(366,6.4)(370,5.3)(374,4.1)(378,6.8)(382,5.5)(386,4.9)(390,6.2)(394,5.1)(398,4.5)(402,6.6)(406,5.4)(410,4.8)(414,6.0)(418,5.2)(422,4.3)(426,6.5)(430,5.7)(434,4.6)(444,6.3)(448,5.0)(452,4.4)(458,6.1)(462,5.5)(466,4.9)(470,6.7)(474,5.3)(478,4.6)(482,6.0)(486,5.4)(490,4.8)(496,6.3)(500,5.6)(504,4.5)(508,6.5)(512,5.1)(516,4.7)(520,6.2)(524,5.8)(528,4.3)(532,6.4)(536,5.2)
(541.5,0.2)(543.5,5.4)(545.5,-0.6)(548.5,6.1)(551.5,1.0)(553.5,4.7)(556.5,0.4)(558.5,6.6)(561.5,5.1)(564.5,-0.3)(566.5,4.4)(569.5,6.0)(571.5,0.8)(574.5,5.5)(576.5,7.0)(579.5,0.1)(581.5,4.9)(584.5,6.3)(586.5,1.2)(589.5,5.2)(591.5,6.8)(594.5,0.5)(596.5,4.6)(599.5,5.9)(601,0.3)(603,6.4)(605,4.8)(607,1.0)(609,5.6)(611,7.2)(613,0.6)(615,5.0)(617,6.1)(619.5,-0.5)(621,4.5)(623,6.7)(625,0.9)(627,5.3)(629,6.0)(631,0.2)(633,4.9)(635,6.5)(637,1.4)(639,5.7)(641,0.0)(643,4.4)(645,6.2)(647,0.7)(649,5.5)(651,6.9)(653,-0.4)(655,4.7)(657,6.3)(659,0.5)(661,5.1)(663.5,0.3)(665,6.6)(667,4.6)(669,1.1)(671,5.9)(673.5,7.1)(675,0.4)(677,5.2)(679,6.4)(681,-0.2)(683,4.8)(685,6.1)(687,1.0)(689,5.6)(691,6.7)(693,0.6)(695,4.5)(697,6.0)(699,0.2)(701,5.3)(703,6.9)(704.5,1.3)(708.5,5.8)(710.5,0.7)(712.5,4.9)(714.5,6.4)(716.5,-0.4)(718.5,5.2)(720.5,0.5)(722.5,6.2)(724.5,4.6)(726.5,-0.1)(728.5,5.7)(730.5,0.9)(732.5,6.6)(734.5,4.4)(738.5,1.5)(740.5,5.9)(742.5,-0.6)(744.5,6.3)(762.5,0.6)(763.5,5.0)(764.5,-0.3)(765.5,6.4)(766.5,0.9)(767.5,4.7)(768.5,-0.5)(769.5,5.8)(770.5,1.2)(771.5,6.9)(772.5,0.3)(773.5,4.4)(774.5,-0.2)(775.5,5.5)(776.5,0.8)(777.5,6.1)(778.5,1.6)(779.5,4.9)
};
\end{axis}
% ---------------- texts
\node[font=\fS, anchor=base] at (132.8pt,-6.3pt) {Sept};
\node[font=\fS, anchor=base] at (132.8pt,-18pt) {2019};
\node[font=\fS, anchor=base] at (242.4pt,-6.3pt) {Sept};
\node[font=\fS, anchor=base] at (242.4pt,-18pt) {2020};
\node[font=\fL, rotate=90] at (10.5pt,-85.25pt) {Res(P)/trav (P)};
\node[font=\fL, rotate=90] at (10.5pt,-229pt) {Res(S)/trav (S)};
\node[font=\fL, rotate=90] at (5.5pt,-375.25pt) {Cumu. Numb. of Events};
\node[font=\fL, rotate=90] at (336pt,-381pt) {Rate (N. eve/day)};
\node[font=\fL, rotate=90] at (17.5pt,-509pt) {depth (km )};
\node[font=\fL] at (180.5pt,-583.3pt) {days since January 2019};
\node[font=\fP, anchor=base west, inner sep=0pt] at (57pt,-139.5pt) {a)};
\node[font=\fP, anchor=base west, inner sep=0pt] at (57pt,-282pt) {b)};
\node[font=\fP, anchor=base west, inner sep=0pt] at (58pt,-335pt) {c)};
\node[font=\fP, anchor=base west, inner sep=0pt] at (57pt,-546.5pt) {d)};
\end{tikzpicture}
\end{document}
